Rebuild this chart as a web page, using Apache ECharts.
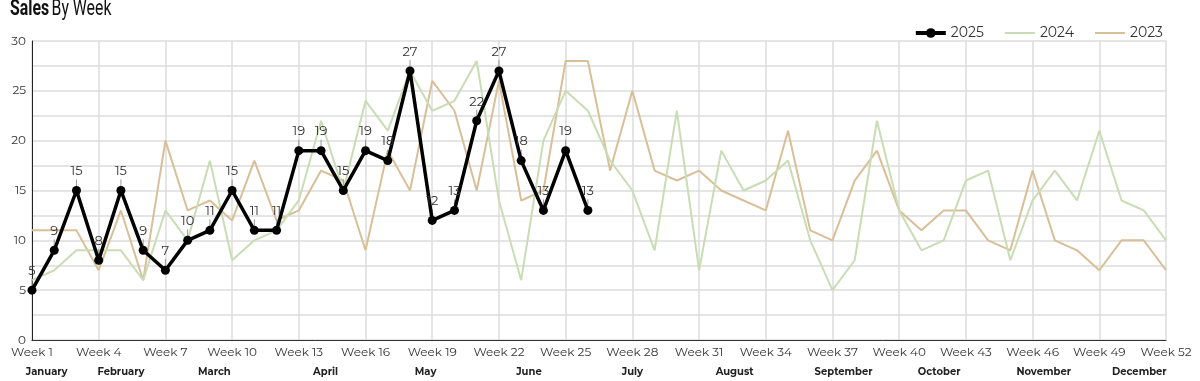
<!DOCTYPE html>
<html>
<head>
<meta charset="utf-8">
<script src="https://cdn.jsdelivr.net/npm/echarts@6/dist/echarts.min.js"></script>
<style>
html,body{margin:0;padding:0;background:#fff;}
#chart{width:1200px;height:381px;}
</style>
</head>
<body>
<div id="chart"></div>
<script>
const weeks = ["Week 1","Week 2","Week 3","Week 4","Week 5","Week 6","Week 7","Week 8","Week 9","Week 10",
"Week 11","Week 12","Week 13","Week 14","Week 15","Week 16","Week 17","Week 18","Week 19","Week 20",
"Week 21","Week 22","Week 23","Week 24","Week 25","Week 26","Week 27","Week 28","Week 29","Week 30",
"Week 31","Week 32","Week 33","Week 34","Week 35","Week 36","Week 37","Week 38","Week 39","Week 40",
"Week 41","Week 42","Week 43","Week 44","Week 45","Week 46","Week 47","Week 48","Week 49","Week 50",
"Week 51","Week 52"];

const sales2025 = [5,9,15,8,15,9,7,10,11,15,11,11,19,19,15,19,18,27,12,13,22,27,18,13,19,13];

const sales2024 = [6,7,9,9,9,6,13,10,18,8,10,11,14,22,15,24,21,27,23,24,28,14,6,20,25,23,18,15,9,23,
7,19,15,16,18,10,5,8,22,13,9,10,16,17,8,14,17,14,21,14,13,10];

const sales2023 = [11,11,11,7,13,6,20,13,14,12,18,12,13,17,16,9,19,15,26,23,15,26,14,15,28,28,17,25,17,16,
17,15,14,13,21,11,10,16,19,13,11,13,13,10,9,17,10,9,7,10,10,7];

const monthNames = ["January","February","March","April","May","June","July","August","September","October","November","December"];
const monthWeeks = [1.66,5.0,9.2,14.2,18.7,23.35,28.0,32.6,37.5,41.8,46.5,50.8];

const yTicks = [0,5,10,15,20,25,30];

const chart = echarts.init(document.getElementById('chart'));
const font = 'Montserrat, "Open Sans", Lato, sans-serif';

const option = {
  animation: false,
  legend: {
    data: [
      {name: '2025', lineStyle: {width: 4}},
      {name: '2024', itemStyle: {opacity: 0}},
      {name: '2023', itemStyle: {opacity: 0}}
    ],
    right: 32, top: 21,
    itemWidth: 30, itemHeight: 12, itemGap: 20,
    textStyle: {fontFamily: font, fontSize: 14, color: '#333'}
  },
  grid: {left: 32, right: 34, top: 41, bottom: 41, containLabel: false},
  xAxis: {
    type: 'category',
    data: weeks,
    boundaryGap: false,
    axisLine: {show: true, lineStyle: {color: '#333', width: 1}},
    axisTick: {show: false},
    axisLabel: {interval: 2, color: '#333', fontFamily: font, fontSize: 12, margin: 6},
    splitLine: {show: true, interval: 2, lineStyle: {color: '#dcdcdc', width: 1.5}}
  },
  yAxis: {
    type: 'value',
    min: 0, max: 30, interval: 2.5,
    axisLine: {show: true, lineStyle: {color: '#222', width: 1}},
    axisTick: {show: false},
    axisLabel: {
      color: '#333', fontFamily: font, fontSize: 12, margin: 6,
      formatter: v => yTicks.indexOf(v) >= 0 ? String(v) : ''
    },
    splitLine: {show: true, lineStyle: {color: '#dcdcdc', width: 1.5}}
  },
  series: [
    {
      name: '2023', type: 'line', data: sales2023, symbol: 'none', showSymbol: false,
      lineStyle: {color: '#d9bf98', width: 2}, itemStyle: {color: '#d9bf98'}, z: 2
    },
    {
      name: '2024', type: 'line', data: sales2024, symbol: 'none', showSymbol: false,
      lineStyle: {color: '#c8ddb4', width: 2}, itemStyle: {color: '#c8ddb4'}, z: 3
    },
    {
      name: '2025', type: 'line', data: sales2025, symbol: 'circle', symbolSize: 9,
      lineStyle: {color: '#000', width: 3.5}, itemStyle: {color: '#000'}, z: 5,
      label: {show: true, position: 'top', distance: 8, color: '#333', fontFamily: font, fontSize: 13}
    }
  ]
};
chart.setOption(option);

const x0 = chart.convertToPixel({xAxisIndex: 0}, 0);
const x1 = chart.convertToPixel({xAxisIndex: 0}, weeks.length - 1);
const step = (x1 - x0) / (weeks.length - 1);
const monthText = monthNames.map((m, i) => ({
  type: 'text',
  x: x0 + (monthWeeks[i] - 1) * step,
  y: 372,
  style: {text: m, fill: '#222', font: 'bold 10px ' + font, textAlign: 'center', textVerticalAlign: 'middle'}
}));
// short leader ticks between value labels and points
const ticks = sales2025.map((v, i) => {
  const p = chart.convertToPixel({xAxisIndex: 0, yAxisIndex: 0}, [i, v]);
  return {type: 'line', z: 4, shape: {x1: p[0], y1: p[1] - 11, x2: p[0], y2: p[1] - 4}, style: {stroke: '#999', lineWidth: 1}};
});
chart.setOption({
  graphic: [
    {
      type: 'text', x: 10, y: -2, scaleX: 0.72,
      style: {
        text: '{b|Sales} {r|By Week}',
        rich: {
          b: {fontFamily: 'Roboto, sans-serif', fontWeight: 'bold', fontSize: 22, fill: '#111'},
          r: {fontFamily: 'Roboto, sans-serif', fontWeight: 'normal', fontSize: 22, fill: '#111'}
        }
      }
    }
  ].concat(monthText, ticks)
});
</script>
</body>
</html>
